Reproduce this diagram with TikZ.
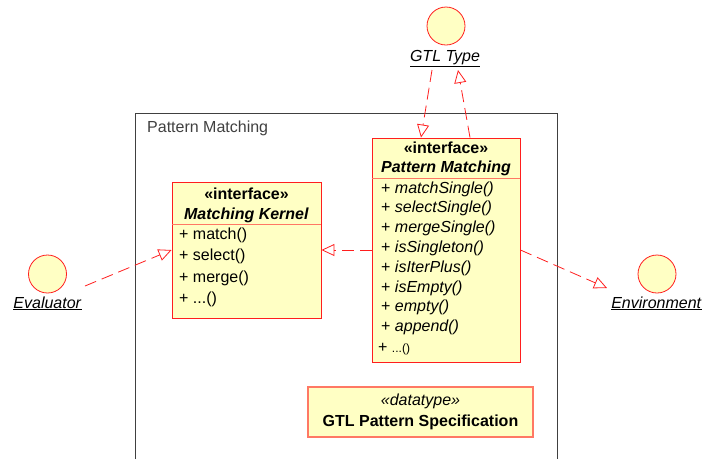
\documentclass[tikz,border=0pt]{standalone}
\usepackage{fontspec}
\setmainfont{Liberation Sans}
\usetikzlibrary{arrows.meta}

\definecolor{umlred}{RGB}{255,30,30}
\definecolor{umlfill}{RGB}{255,255,196}
\definecolor{umlsep}{RGB}{255,120,100}
\definecolor{pkggray}{RGB}{64,64,64}

\begin{document}
\begin{tikzpicture}[x=1pt, y=-1pt, font=\fontsize{16}{20}\selectfont,
    classbox/.style={draw=umlred, fill=umlfill, line width=0.9pt, inner sep=0pt},
    actor/.style={circle, draw=umlred, fill=umlfill, line width=0.8pt, minimum size=38pt, inner sep=0pt},
    realize/.style={draw=umlred, line width=0.8pt, dash pattern=on 12pt off 6pt,
        -{Triangle[open, length=13pt, width=12pt]}},
    op/.style={anchor=base west, inner sep=0pt},
    txt/.style={anchor=base, inner sep=0pt}]
    \useasboundingbox (0,0) rectangle (703,459);

    % package frame, open at the bottom
    \draw[pkggray, line width=0.8pt] (135,459) -- (135,113) -- (557,113) -- (557,459);
    \node[op, text=pkggray] (pkglabel) at (147,132) {Pattern Matching};

    % actors
    \node[actor] (gtl) at (446,26) {};
    \node[txt] (gtllabel) at (445,61) {\underline{\textit{GTL Type}}};
    \node[actor] (eval) at (47.5,274) {};
    \node[txt] (evallabel) at (47.5,308) {\underline{\textit{Evaluator}}};
    \node[actor] (env) at (657,274) {};
    \node[txt] (envlabel) at (656.5,308) {\underline{\textit{Environment}}};

    % interface Pattern Matching
    \node[classbox, minimum width=148pt, minimum height=224pt] (pm) at (446,250) {};
    \node[txt] (pm-st) at (446,153) {\textbf{«interface»}};
    \node[txt] (pm-name) at (446,172) {\textbf{\textit{Pattern Matching}}};
    \draw[umlsep, line width=0.9pt] (pm.west |- 0,178) -- (pm.east |- 0,178);
    \foreach \m [count=\i from 0] in {matchSingle,selectSingle,mergeSingle,isSingleton,
                                      isIterPlus,isEmpty,empty,append}
        \node[op] (pm-op\i) at (381,{193+19.8*\i}) {+ \textit{\m()}};
    \node[op] (pm-op8) at (378,352) {+ {\fontsize{12}{14}\selectfont ...()}};

    % interface Matching Kernel
    \node[classbox, minimum width=149pt, minimum height=136pt] (mk) at (246.5,250) {};
    \node[txt] (mk-st) at (246.5,199) {\textbf{«interface»}};
    \node[txt] (mk-name) at (246.5,219) {\textbf{\textit{Matching Kernel}}};
    \draw[umlsep, line width=0.9pt] (mk.west |- 0,224) -- (mk.east |- 0,224);
    \foreach \m [count=\i from 0] in {match,select,merge}
        \node[op] (mk-op\i) at (179,{239+21.5*\i}) {+ \m()};
    \node[op] (mk-op3) at (179,303.5) {+ ...()};

    % datatype
    \node[classbox, draw=umlsep, line width=1.2pt, minimum width=225pt, minimum height=50pt] (spec) at (420.5,412) {};
    \node[txt] (spec-st) at (420.5,405) {\textit{«datatype»}};
    \node[txt] (spec-name) at (420.5,426) {\textbf{GTL Pattern Specification}};

    % realizations
    \coordinate (ev-out) at (85,286);
    \coordinate (env-in) at (607,288);
    \coordinate (gtl-out) at (432,70);
    \coordinate (gtl-in) at (458,70);
    \draw[realize] (ev-out) -- (mk.west);
    \draw[realize] (pm.west) -- (mk.east);
    \draw[realize] (pm.east) -- (env-in);
    \draw[realize] (gtl-out) -- (pm.north -| 421,0);
    \draw[realize] (pm.north -| 470,0) -- (gtl-in);
\end{tikzpicture}
\end{document}
